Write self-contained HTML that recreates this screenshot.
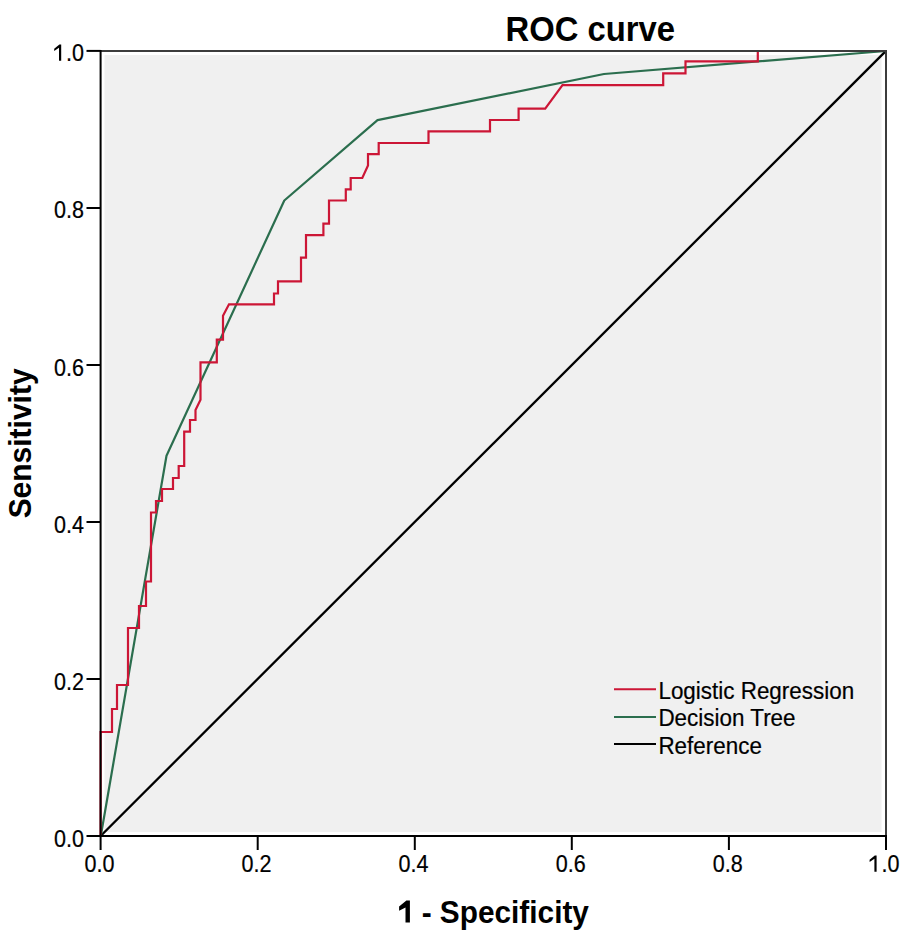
<!DOCTYPE html>
<html><head><meta charset="utf-8"><style>
html,body{margin:0;padding:0;background:#fff;}
body{width:902px;height:934px;overflow:hidden;}
svg{display:block;}
text{font-family:"Liberation Sans",sans-serif;fill:#000;font-variant-ligatures:none;}
.tk{font-size:22px;stroke:#000;stroke-width:0.2px;}
.lg{font-size:22px;stroke:#000;stroke-width:0.2px;}
.ti{font-size:32px;font-weight:bold;}
.ax{font-size:30px;font-weight:bold;}
.hid{fill:none;stroke:none;}
</style></head><body>
<svg width="902" height="934" viewBox="0 0 902 934">
<rect x="104.5" y="55" width="777" height="777" fill="#f0f0f0"/>
<line x1="100.6" y1="836.0" x2="886.0" y2="50.9" stroke="#000" stroke-width="2.3"/>
<polyline points="100.8,836.0 166.5,455.8 284.3,200.5 377.5,120.2 604.0,74.0 886.0,51.0" fill="none" stroke="#2b6e4e" stroke-width="2.2" stroke-linejoin="round"/>
<polyline points="100.6,836.0 100.6,732.0 112.0,732.0 112.0,709.0 117.0,709.0 117.0,685.0 128.0,685.0 128.0,628.0 139.0,628.0 139.0,606.0 146.0,606.0 146.0,581.5 151.0,581.5 151.0,512.5 156.0,512.5 156.0,501.0 162.0,501.0 162.0,489.0 173.0,489.0 173.0,478.0 178.7,478.0 178.7,466.0 184.2,466.0 184.2,431.6 190.0,431.6 190.0,420.0 195.5,420.0 195.5,410.0 200.5,399.7 200.5,362.3 216.8,362.3 216.8,339.6 223.0,339.6 223.0,315.7 229.0,304.3 274.0,304.3 274.0,293.5 278.0,293.5 278.0,281.4 301.0,281.4 301.0,257.7 306.0,257.7 306.0,235.2 323.4,235.2 323.4,223.6 329.0,223.6 329.0,200.5 345.8,200.5 345.8,189.4 350.7,189.4 350.7,178.0 362.3,178.0 368.0,165.5 368.0,154.2 378.7,154.2 378.7,143.0 428.5,143.0 428.5,131.3 490.0,131.3 490.0,120.0 518.6,120.0 518.6,108.6 545.2,108.6 562.5,85.2 663.2,85.2 663.2,73.3 685.5,73.3 685.5,61.3 757.8,61.3 757.8,51.0 886.0,51.0" fill="none" stroke="#cc1636" stroke-width="2.2" stroke-linejoin="miter"/>
<line x1="100.6" y1="50.9" x2="887.0" y2="50.9" stroke="#3c3c3c" stroke-width="2"/>
<line x1="886.0" y1="50.9" x2="886.0" y2="836.0" stroke="#3c3c3c" stroke-width="2"/>
<line x1="100.6" y1="49.9" x2="100.6" y2="837.0" stroke="#000" stroke-width="2"/>
<line x1="99.6" y1="836.0" x2="887.0" y2="836.0" stroke="#000" stroke-width="2"/>
<line x1="86.5" y1="836.0" x2="100.6" y2="836.0" stroke="#000" stroke-width="2"/>
<line x1="100.6" y1="836.0" x2="100.6" y2="850" stroke="#000" stroke-width="2"/>
<text transform="translate(84.0,847.40) scale(0.98,1.11)" text-anchor="end" class="tk">0.0</text>
<text transform="translate(99.40,871.8) scale(0.98,1.11)" text-anchor="middle" class="tk">0.0</text>
<line x1="86.5" y1="679.0" x2="100.6" y2="679.0" stroke="#000" stroke-width="2"/>
<line x1="257.7" y1="836.0" x2="257.7" y2="850" stroke="#000" stroke-width="2"/>
<text transform="translate(84.0,690.13) scale(0.98,1.11)" text-anchor="end" class="tk">0.2</text>
<text transform="translate(256.48,871.8) scale(0.98,1.11)" text-anchor="middle" class="tk">0.2</text>
<line x1="86.5" y1="522.0" x2="100.6" y2="522.0" stroke="#000" stroke-width="2"/>
<line x1="414.8" y1="836.0" x2="414.8" y2="850" stroke="#000" stroke-width="2"/>
<text transform="translate(84.0,533.21) scale(0.98,1.11)" text-anchor="end" class="tk">0.4</text>
<text transform="translate(413.56,871.8) scale(0.98,1.11)" text-anchor="middle" class="tk">0.4</text>
<line x1="86.5" y1="365.0" x2="100.6" y2="365.0" stroke="#000" stroke-width="2"/>
<line x1="571.8" y1="836.0" x2="571.8" y2="850" stroke="#000" stroke-width="2"/>
<text transform="translate(84.0,376.19) scale(0.98,1.11)" text-anchor="end" class="tk">0.6</text>
<text transform="translate(570.64,871.8) scale(0.98,1.11)" text-anchor="middle" class="tk">0.6</text>
<line x1="86.5" y1="208.0" x2="100.6" y2="208.0" stroke="#000" stroke-width="2"/>
<line x1="728.9" y1="836.0" x2="728.9" y2="850" stroke="#000" stroke-width="2"/>
<text transform="translate(84.0,217.67) scale(0.98,1.11)" text-anchor="end" class="tk">0.8</text>
<text transform="translate(727.72,871.8) scale(0.98,1.11)" text-anchor="middle" class="tk">0.8</text>
<line x1="86.5" y1="50.9" x2="100.6" y2="50.9" stroke="#000" stroke-width="2"/>
<line x1="886.0" y1="836.0" x2="886.0" y2="850" stroke="#000" stroke-width="2"/>
<text transform="translate(84.0,60.85) scale(0.98,1.11)" text-anchor="end" class="tk"><tspan class="hid">1</tspan>.0</text>
<path transform="translate(60.1,60.85)" d="M 1.1 0 L -1.1 0 L -1.1 -13.0 L -5.9 -9.9 L -5.9 -12.1 L -0.7 -16.4 L 1.1 -16.4 Z" fill="#000"/>
<text transform="translate(884.60,871.8) scale(0.98,1.11)" text-anchor="middle" class="tk"><tspan class="hid">1</tspan>.0</text>
<path transform="translate(875.50,871.8)" d="M 1.1 0 L -1.1 0 L -1.1 -13.0 L -5.9 -9.9 L -5.9 -12.1 L -0.7 -16.4 L 1.1 -16.4 Z" fill="#000"/>
<line x1="614" y1="689.2" x2="656" y2="689.2" stroke="#cc1636" stroke-width="2"/>
<text transform="translate(658.4,698.60) scale(1.02,1.05)" class="lg">Logistic Regression</text>
<line x1="614" y1="716.9" x2="656" y2="716.9" stroke="#2b6e4e" stroke-width="2"/>
<text transform="translate(658.4,726.30) scale(1.02,1.05)" class="lg">Decision Tree</text>
<line x1="614" y1="744.1" x2="656" y2="744.1" stroke="#000" stroke-width="2"/>
<text transform="translate(658.4,753.50) scale(1.02,1.05)" class="lg">Reference</text>
<text transform="translate(505.45,40.6) scale(1.025,1.08)" class="ti">ROC curve</text>
<text transform="translate(396.8,922.55) scale(0.994,1.025)" class="ax"><tspan class="hid">1</tspan> - Specificity</text>
<path transform="translate(407.7,922.6)" d="M 2.2 0 L -2.2 0 L -2.2 -15.2 L -8.6 -11.9 L -8.6 -16.2 L -1.3 -22.2 L 2.2 -22.2 Z" fill="#000"/>
<text transform="translate(30.7,443.4) rotate(-90) scale(1,1.07)" text-anchor="middle" class="ax">Sensitivity</text>
</svg>
</body></html>
